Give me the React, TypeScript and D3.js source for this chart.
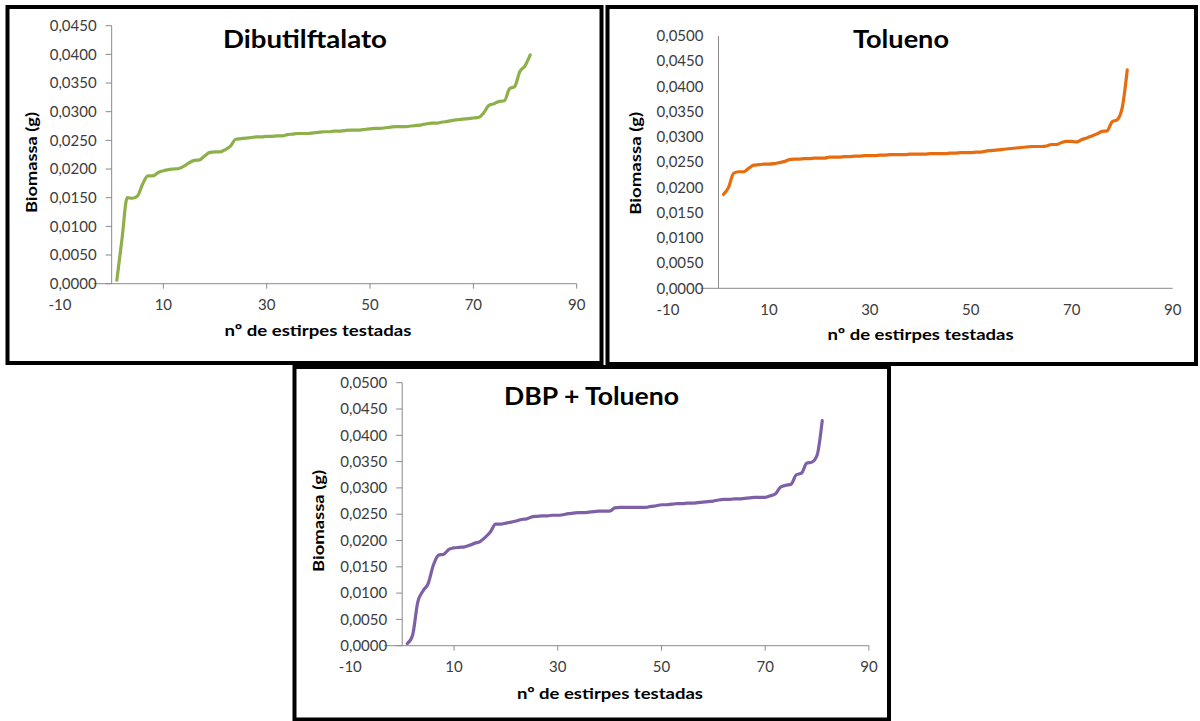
import React from "react";
import * as d3 from "d3";

// ---- Data (biomass in g, strains sorted ascending, strain index 1..81) ----
const dibutilftalato = [
  0.0006, 0.0078, 0.0150, 0.0149, 0.0153, 0.0174, 0.0188, 0.0188, 0.0194, 0.0197,
  0.0199, 0.0200, 0.0201, 0.0205, 0.0211, 0.0215, 0.0216, 0.0223, 0.0229, 0.0230,
  0.0230, 0.0234, 0.0240, 0.0252, 0.0253, 0.0254, 0.0255, 0.0256, 0.0256, 0.0257,
  0.0257, 0.0258, 0.0258, 0.0260, 0.0261, 0.0262, 0.0262, 0.0262, 0.0263, 0.0264,
  0.0265, 0.0265, 0.0266, 0.0266, 0.0267, 0.0268, 0.0268, 0.0268, 0.0269, 0.0270,
  0.0271, 0.0271, 0.0272, 0.0273, 0.0274, 0.0274, 0.0274, 0.0275, 0.0276, 0.0277,
  0.0279, 0.0280, 0.0280, 0.0282, 0.0283, 0.0285, 0.0286, 0.0287, 0.0288, 0.0289,
  0.0290, 0.0298, 0.0311, 0.0314, 0.0318, 0.0319, 0.0340, 0.0344, 0.0370, 0.0380,
  0.0399,
];

const tolueno = [
  0.0186, 0.0200, 0.0228, 0.0231, 0.0231, 0.0238, 0.0244, 0.0245, 0.0246, 0.0246,
  0.0247, 0.0249, 0.0251, 0.0255, 0.0256, 0.0256, 0.0257, 0.0257, 0.0258, 0.0258,
  0.0258, 0.0260, 0.0260, 0.0260, 0.0261, 0.0261, 0.0262, 0.0262, 0.0263, 0.0263,
  0.0263, 0.0264, 0.0264, 0.0265, 0.0265, 0.0265, 0.0265, 0.0266, 0.0266, 0.0266,
  0.0266, 0.0267, 0.0267, 0.0267, 0.0267, 0.0268, 0.0268, 0.0269, 0.0269, 0.0269,
  0.0270, 0.0270, 0.0272, 0.0273, 0.0274, 0.0275, 0.0276, 0.0277, 0.0278, 0.0279,
  0.0280, 0.0281, 0.0281, 0.0281, 0.0282, 0.0285, 0.0285, 0.0289, 0.0291, 0.0291,
  0.0290, 0.0295, 0.0298, 0.0302, 0.0306, 0.0311, 0.0312, 0.0330, 0.0334, 0.0358,
  0.0433,
];

const dbpTolueno = [
  0.0004, 0.0020, 0.0083, 0.0104, 0.0118, 0.0153, 0.0172, 0.0174, 0.0183, 0.0186,
  0.0187, 0.0188, 0.0191, 0.0195, 0.0198, 0.0206, 0.0216, 0.0231, 0.0231, 0.0233,
  0.0235, 0.0237, 0.0240, 0.0241, 0.0245, 0.0246, 0.0247, 0.0247, 0.0248, 0.0248,
  0.0249, 0.0251, 0.0252, 0.0253, 0.0253, 0.0254, 0.0255, 0.0256, 0.0256, 0.0256,
  0.0262, 0.0263, 0.0263, 0.0263, 0.0263, 0.0263, 0.0263, 0.0265, 0.0266, 0.0268,
  0.0268, 0.0269, 0.0270, 0.0270, 0.0271, 0.0271, 0.0272, 0.0273, 0.0274, 0.0275,
  0.0277, 0.0278, 0.0278, 0.0279, 0.0279, 0.0280, 0.0281, 0.0282, 0.0282, 0.0282,
  0.0285, 0.0289, 0.0302, 0.0305, 0.0307, 0.0325, 0.0328, 0.0347, 0.0349, 0.0362,
  0.0428,
];

const xTicks = [-10, 10, 30, 50, 70, 90];
const yTicks045 = [0, 0.005, 0.01, 0.015, 0.02, 0.025, 0.03, 0.035, 0.04, 0.045];
const yTicks050 = [0, 0.005, 0.01, 0.015, 0.02, 0.025, 0.03, 0.035, 0.04, 0.045, 0.05];

const titles = ["Dibutilftalato", "Tolueno", "DBP + Tolueno"];
const yAxisTitle = "Biomassa (g)";
const xAxisTitle = "nº de estirpes testadas";

// ---- Layout ----
type PanelCfg = {
  frame: [number, number, number, number];
  xPx: [number, number];
  yPx: [number, number];
  yMax: number;
  yTicks: number[];
  tickMarks: boolean;
  title: { x: number; y: number; w: number };
  yTitle: { x: number; y: number; w: number };
  xTitle: { x: number; y: number; w: number };
  color: string;
  data: number[];
  name: string;
};

const panels: PanelCfg[] = [
  {
    frame: [7.5, 7, 601.5, 363],
    xPx: [60.0, 576.7],
    yPx: [283.7, 25.7],
    yMax: 0.045,
    yTicks: yTicks045,
    tickMarks: true,
    title: { x: 305, y: 48, w: 164 },
    yTitle: { x: 31, y: 162.5, w: 101 },
    xTitle: { x: 318, y: 336, w: 187 },
    color: "#8DB04B",
    data: dibutilftalato,
    name: titles[0],
  },
  {
    frame: [607.5, 7, 1196, 364],
    xPx: [668.0, 1172.7],
    yPx: [288.3, 36],
    yMax: 0.05,
    yTicks: yTicks050,
    tickMarks: false,
    title: { x: 901, y: 48, w: 96 },
    yTitle: { x: 635, y: 163.3, w: 103 },
    xTitle: { x: 920.6, y: 340, w: 186 },
    color: "#E76C0E",
    data: tolueno,
    name: titles[1],
  },
  {
    frame: [294.5, 367, 889, 719.5],
    xPx: [350.35, 868.9],
    yPx: [645.7, 382.7],
    yMax: 0.05,
    yTicks: yTicks050,
    tickMarks: true,
    title: { x: 591.5, y: 405, w: 175 },
    yTitle: { x: 318, y: 521, w: 102 },
    xTitle: { x: 610, y: 699, w: 186 },
    color: "#7E60A6",
    data: dbpTolueno,
    name: titles[2],
  },
];

const locale = d3.formatLocale({
  decimal: ",",
  thousands: ".",
  grouping: [3],
  currency: ["", ""],
  minus: "-",
});
const yFmt = locale.format(".4f");
const xFmt = locale.format("d");

const FONT = "Lato, 'Open Sans', sans-serif";
const AXIS_COLOR = "#8a8a8a";
const LABEL_COLOR = "#3c3c3c";
const AXIS_LINE_START = -3.5;

function Panel({ cfg }: { cfg: PanelCfg }) {
  const x = d3.scaleLinear().domain([-10, 90]).range(cfg.xPx);
  const y = d3.scaleLinear().domain([0, cfg.yMax]).range(cfg.yPx);
  const line = d3
    .line<number>()
    .x((_, i) => x(i + 1))
    .y((d) => y(d))
    .curve(d3.curveMonotoneX);
  const [fx0, fy0, fx1, fy1] = cfg.frame;
  const x0 = x(0);
  const yZero = y(0);
  return (
    <g>
      <rect
        x={fx0}
        y={fy0}
        width={fx1 - fx0}
        height={fy1 - fy0}
        fill="#fff"
        stroke="#000"
        strokeWidth={4}
      />
      {/* axes */}
      <line x1={x0} x2={x0} y1={y(0)} y2={y(cfg.yMax)} stroke={AXIS_COLOR} strokeWidth={1} />
      <line
        x1={x(AXIS_LINE_START)}
        x2={x(90)}
        y1={yZero}
        y2={yZero}
        stroke={AXIS_COLOR}
        strokeWidth={1}
      />
      {cfg.tickMarks &&
        cfg.yTicks.map((t) => (
          <line key={"yt" + t} x1={x0 - 6} x2={x0} y1={y(t)} y2={y(t)} stroke={AXIS_COLOR} />
        ))}
      {cfg.tickMarks &&
        xTicks
          .filter((t) => t >= AXIS_LINE_START)
          .map((t) => (
            <line key={"xt" + t} x1={x(t)} x2={x(t)} y1={yZero} y2={yZero + 5} stroke={AXIS_COLOR} />
          ))}
      {cfg.yTicks.map((t) => (
        <text
          key={"yl" + t}
          x={x0 - 15}
          y={y(t)}
          dy="0.35em"
          textAnchor="end"
          fontFamily={FONT}
          fontSize={15}
          fill={LABEL_COLOR}
        >
          {yFmt(t)}
        </text>
      ))}
      {xTicks.map((t) => (
        <text
          key={"xl" + t}
          x={x(t)}
          y={yZero + 21}
          dy="0.35em"
          textAnchor="middle"
          fontFamily={FONT}
          fontSize={15}
          fill={LABEL_COLOR}
        >
          {xFmt(t)}
        </text>
      ))}
      {/* data line */}
      <path
        d={line(cfg.data) || ""}
        fill="none"
        stroke={cfg.color}
        strokeWidth={3.2}
        strokeLinejoin="round"
        strokeLinecap="round"
      />
      {/* titles */}
      <text
        x={cfg.title.x}
        y={cfg.title.y}
        textAnchor="middle"
        fontFamily={FONT}
        fontWeight="bold"
        fontSize={24}
        fill="#000"
        textLength={cfg.title.w}
        lengthAdjust="spacingAndGlyphs"
      >
        {cfg.name}
      </text>
      <text
        transform={`translate(${cfg.yTitle.x},${cfg.yTitle.y}) rotate(-90)`}
        dy="0.35em"
        textAnchor="middle"
        fontFamily={FONT}
        fontWeight="bold"
        fontSize={16}
        fill="#000"
        textLength={cfg.yTitle.w}
        lengthAdjust="spacingAndGlyphs"
      >
        {yAxisTitle}
      </text>
      <text
        x={cfg.xTitle.x}
        y={cfg.xTitle.y}
        textAnchor="middle"
        fontFamily={FONT}
        fontWeight="bold"
        fontSize={16}
        fill="#000"
        textLength={cfg.xTitle.w}
        lengthAdjust="spacingAndGlyphs"
      >
        {xAxisTitle}
      </text>
    </g>
  );
}

export default function App() {
  return (
    <svg
      width={1200}
      height={721}
      viewBox="0 0 1200 721"
      style={{ position: "absolute", left: 0, top: 0, background: "#fff" }}
    >
      <rect x={0} y={0} width={1200} height={721} fill="#fff" />
      {panels.map((p) => (
        <Panel key={p.name} cfg={p} />
      ))}
    </svg>
  );
}
